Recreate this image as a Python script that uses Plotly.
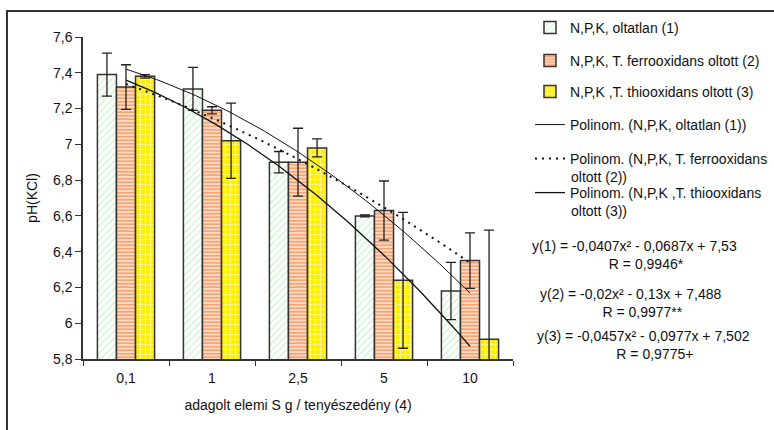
import numpy as np
import plotly.graph_objects as go

# --- data -------------------------------------------------------------
categories = ["0,1", "1", "2,5", "5", "10"]

oltatlan = [7.39, 7.31, 6.90, 6.60, 6.18]
oltatlan_err = [0.12, 0.12, 0.06, 0.005, 0.16]

ferrooxidans = [7.32, 7.19, 6.90, 6.63, 6.35]
ferrooxidans_err = [0.125, 0.02, 0.19, 0.165, 0.155]

thiooxidans = [7.38, 7.02, 6.98, 6.24, 5.91]
thiooxidans_err = [0.01, 0.21, 0.05, 0.38, 0.61]

# second-order polynomial trends y = a*x^2 + b*x + c (x = category index 1..5)
trend1 = [-0.0407, -0.0687, 7.53]
trend2 = [-0.02, -0.13, 7.488]
trend3 = [-0.0457, -0.0977, 7.502]

y_ticks = [5.8, 6.0, 6.2, 6.4, 6.6, 6.8, 7.0, 7.2, 7.4, 7.6]
y_tick_labels = ["5,8", "6", "6,2", "6,4", "6,6", "6,8", "7", "7,2", "7,4", "7,6"]

equations = [
    ("y(1) = -0,0407x² - 0,0687x + 7,53", "R = 0,9946*"),
    ("y(2) = -0,02x² - 0,13x + 7,488", "R = 0,9977**"),
    ("y(3) = -0,0457x² - 0,0977x + 7,502", "R = 0,9775+"),
]

# legend labels; the long trend labels wrap onto a second line
legend_labels = [
    ("N,P,K, oltatlan (1)", None),
    ("N,P,K, T. ferrooxidans oltott (2)", None),
    ("N,P,K ,T. thiooxidans oltott (3)", None),
    ("Polinom. (N,P,K, oltatlan (1))", None),
    ("Polinom. (N,P,K, T. ferrooxidans", "oltott (2))"),
    ("Polinom. (N,P,K ,T. thiooxidans", "oltott (3))"),
]

# --- layout geometry (pixels) ----------------------------------------
W, H = 774, 430
PL, PR, PT, PB = 83, 513, 37, 359          # plot area edges


def px(x):
    return (x - PL) / (PR - PL)


def py(y):
    return (PB - y) / (PB - PT)


FONT = "Liberation Sans, Arial, sans-serif"
FS = 14
INK = "#222222"
TXT = dict(family=FONT, size=FS, color="#111111")

pos = list(range(1, len(categories) + 1))
xs = np.linspace(1, len(categories), 80)


def poly(c, x):
    return c[0] * x ** 2 + c[1] * x + c[2]


fig = go.Figure()


def add_bar(idx, vals, errs, pattern):
    fig.add_trace(go.Bar(
        x=pos, y=vals, name=legend_labels[idx][0], legend=f"legend{idx + 2}",
        showlegend=True,
        marker=dict(color="white", line=dict(color="#333333", width=1.5),
                    pattern=pattern),
        error_y=dict(type="data", array=errs, visible=True,
                     color=INK, thickness=1.3, width=5),
    ))


def add_trend(idx, coef, line):
    fig.add_trace(go.Scatter(
        x=xs, y=poly(coef, xs), mode="lines", name=legend_labels[idx][0],
        legend=f"legend{idx + 2}", showlegend=True, line=line))


add_bar(0, oltatlan, oltatlan_err,
        dict(shape="/", fgcolor="#b3ecb3", bgcolor="white", size=5, solidity=0.35))
add_bar(1, ferrooxidans, ferrooxidans_err,
        dict(shape="-", fgcolor="#f26b22", bgcolor="#fddcc6", size=3.5, solidity=0.5))
add_bar(2, thiooxidans, thiooxidans_err,
        dict(shape="+", fgcolor="#ffffff", bgcolor="#ffee00", size=5, solidity=0.4))

add_trend(3, trend1, dict(color="#111111", width=1))
add_trend(4, trend2, dict(color="#111111", width=2, dash="2px,5px"))
add_trend(5, trend3, dict(color="#111111", width=1.3))

# one legend box per entry so each row sits where it should
legend_rows = [28, 61, 92, 125, 159, 193]
legend_cfg = {}
annotations = []
for i, yc in enumerate(legend_rows):
    legend_cfg[f"legend{i + 2}"] = dict(
        x=px(530), y=py(yc), xanchor="left", yanchor="middle",
        bgcolor="rgba(0,0,0,0)", borderwidth=0, font=TXT,
    )
    cont = legend_labels[i][1]
    if cont:
        annotations.append(dict(
            text=cont, x=px(569), y=py(yc + 18), xref="paper", yref="paper",
            showarrow=False, xanchor="left", yanchor="middle", font=TXT))

eq_pos = [(634, 255), (631, 303), (643, 345)]
for (eq, r), (ex, ey) in zip(equations, eq_pos):
    annotations.append(dict(
        text=eq + "<br>" + "\u00a0" * 6 + r,
        x=px(ex), y=py(ey), xref="paper", yref="paper",
        showarrow=False, xanchor="center", yanchor="middle", align="center",
        font=TXT))

fig.update_layout(
    width=W, height=H,
    margin=dict(l=PL, r=W - PR, t=PT, b=H - PB, autoexpand=False),
    paper_bgcolor="white", plot_bgcolor="white",
    barmode="group", bargap=0.335, bargroupgap=0,
    font=TXT,
    showlegend=True,
    annotations=annotations,
    shapes=[dict(type="rect", xref="paper", yref="paper",
                 x0=px(7), x1=px(800), y0=py(460), y1=py(11),
                 line=dict(color="#333333", width=2), fillcolor="rgba(0,0,0,0)",
                 layer="below")],
    **legend_cfg,
)

fig.update_xaxes(
    range=[0.5, len(categories) + 0.5],
    tickmode="array", tickvals=pos, ticktext=categories,
    ticks="", ticklabelstandoff=5,
    minor=dict(tickmode="linear", tick0=0.5, dtick=1, ticks="outside",
               ticklen=5, tickwidth=1.2, tickcolor="#333333"),
    showline=True, linecolor="#333333", linewidth=1.5,
    showgrid=False, zeroline=False,
    tickfont=TXT,
    title=dict(text="adagolt elemi S g / tenyészedény (4)", standoff=16, font=TXT),
)
fig.update_yaxes(
    range=[5.8, 7.6],
    tickmode="array", tickvals=y_ticks, ticktext=y_tick_labels,
    ticks="outside", ticklen=6, tickwidth=1.2, tickcolor="#333333",
    showline=True, linecolor="#333333", linewidth=1.5,
    showgrid=False, zeroline=False,
    tickfont=TXT,
    title=dict(text="pH(KCl)", standoff=12, font=TXT),
)

fig.write_html("out.html")
